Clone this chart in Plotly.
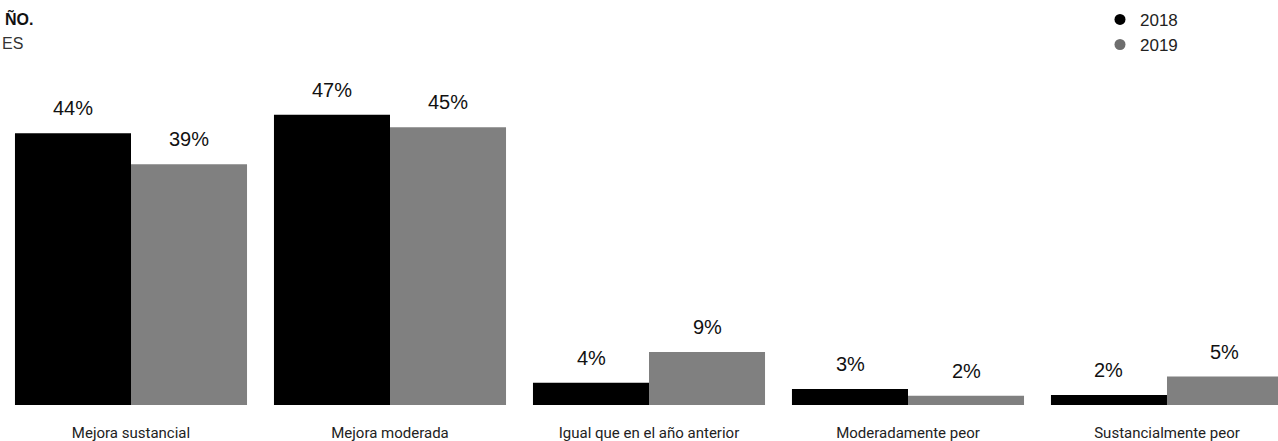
import plotly.graph_objects as go

categories = ["Mejora sustancial", "Mejora moderada", "Igual que en el año anterior",
              "Moderadamente peor", "Sustancialmente peor"]
series_names = ["2018", "2019"]
values_2018 = [44, 47, 3.6, 2.6, 1.6]
values_2019 = [39, 45, 8.6, 1.5, 4.6]
labels_2018 = ["44%", "47%", "4%", "3%", "2%"]
labels_2019 = ["39%", "45%", "9%", "2%", "5%"]
title_text = "ÑO."
subtitle_text = "ES"

W, H = 1278, 441
BAR_COLORS = ["#000000", "#808080"]
LEGEND_COLORS = ["#000000", "#6e6e6e"]
BAR_PX = 116

fig = go.Figure()
for name, vals, col in zip(series_names, [values_2018, values_2019], BAR_COLORS):
    fig.add_trace(go.Bar(x=categories, y=vals, name=name, marker_color=col,
                         marker_line_width=0, showlegend=False, hoverinfo="skip"))
for name, col in zip(series_names, LEGEND_COLORS):
    fig.add_trace(go.Scatter(x=[None], y=[None], mode="markers", name=name,
                             marker=dict(color=col, size=11, symbol="circle")))

annotations = []
for vals, labs, sign in [(values_2018, labels_2018, -1), (values_2019, labels_2019, 1)]:
    for c, v, t in zip(categories, vals, labs):
        annotations.append(dict(x=c, y=v, xref="x", yref="y", text=t, showarrow=False,
                                xanchor="center", yanchor="bottom",
                                xshift=sign * BAR_PX / 2, yshift=12,
                                font=dict(family="Liberation Sans, Arial", size=20, color="#111111")))
annotations.append(dict(x=3 / W, y=1 - 20 / H, xref="paper", yref="paper", text="<b>" + title_text + "</b>",
                        showarrow=False, xanchor="left", yanchor="middle",
                        font=dict(family="Liberation Sans, Arial", size=16, color="#111111")))
annotations.append(dict(x=0, y=1 - 47 / H, xref="paper", yref="paper", text=subtitle_text,
                        showarrow=False, xanchor="left", yanchor="middle",
                        font=dict(family="Liberation Sans, Arial", size=16, color="#333333")))

fig.update_layout(
    width=W, height=H,
    margin=dict(l=0, r=0, t=0, b=36, pad=0),
    paper_bgcolor="white", plot_bgcolor="white",
    barmode="group", bargap=0.104, bargroupgap=0,
    xaxis=dict(range=[-0.5058, 4.4286], showgrid=False, zeroline=False, showline=False,
               ticks="", tickfont=dict(family="Roboto", size=15, color="#222222"),
               ticklabelstandoff=17),
    yaxis=dict(range=[0, 65.6], visible=False, showgrid=False, zeroline=False),
    legend=dict(x=1100 / W, y=1 - 2 / H, xanchor="left", yanchor="top",
                font=dict(family="Liberation Sans, Arial", size=17, color="#222222"),
                bgcolor="rgba(0,0,0,0)", itemwidth=30, tracegroupgap=0),
    annotations=annotations,
)

fig.write_html("out.html", config={"displayModeBar": False},
               post_script="document.body.style.margin='0';document.body.style.overflow='hidden';")
